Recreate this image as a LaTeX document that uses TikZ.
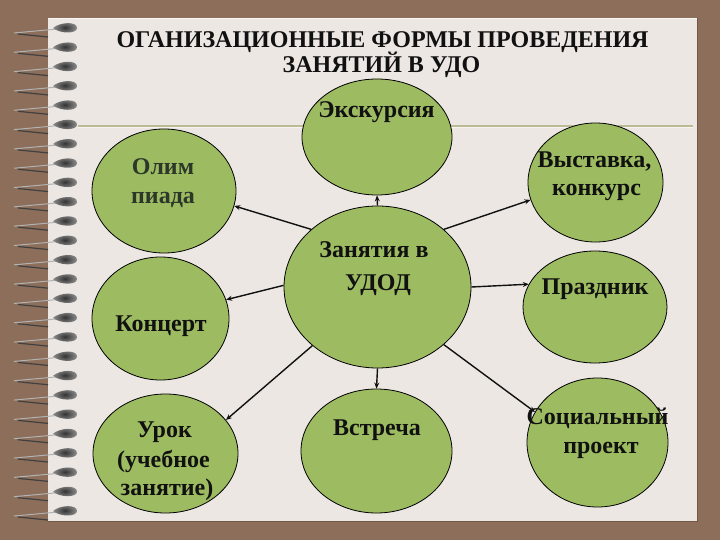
\documentclass[tikz,border=0pt]{standalone}
\usepackage{fontspec}
\setmainfont{Liberation Serif}
\usetikzlibrary{arrows.meta,shapes.geometric}
\definecolor{bg}{HTML}{8C6E5A}
\definecolor{paper}{HTML}{ECE7E3}
\definecolor{leaf}{HTML}{9DBB61}
\definecolor{ink}{HTML}{111111}
\definecolor{olimink}{HTML}{2C372A}
\definecolor{rule}{HTML}{BDBB95}
\begin{document}
\begin{tikzpicture}[x=1pt,y=-1pt,
  bubble/.style={ellipse,draw=black,line width=0.8pt,fill=leaf,inner sep=0pt},
  txt/.style={anchor=base,inner sep=0pt,text=ink,font=\bfseries\fontsize{24}{29}\selectfont},
  ttl/.style={anchor=base,inner sep=0pt,text=ink,font=\bfseries\fontsize{24}{29}\selectfont},
  arr/.style={draw=ink,line width=1.4pt,-{Stealth[length=6pt,width=5pt]}}]
\useasboundingbox (0,0) rectangle (720,540);
% background and paper
\fill[bg] (0,0) rectangle (720,540);
\fill[paper] (48,18) rectangle (697,521);
\draw[white!70!paper,line width=1pt] (48,18.5) -- (697,18.5);
\draw[bg!80!black,line width=1pt] (697.5,18) -- (697.5,521.5) -- (48,521.5);
% rule line
\draw[rule,line width=1.2pt] (78,126) -- (693,126);
\draw[white!60!paper,line width=0.8pt] (78,127.5) -- (693,127.5);
% spiral rings
\foreach \k in {0,...,25}{
  \pgfmathsetmacro{\yy}{28+19.32*\k}
  \draw[gray!60,line width=1pt] (14,\yy+5) -- (58,\yy+1);
  \draw[black!75,line width=1.2pt] (18,\yy+6) -- (48,\yy+9);
  \shade[inner color=black!80,outer color=black!45]
    (53,\yy) .. controls (60,\yy-6) and (77,\yy-7) .. (77,\yy)
    .. controls (77,\yy+6) and (60,\yy+6) .. (53,\yy) -- cycle;
}
% title
\node[ttl] (t1) at (382.5,48) {ОГАНИЗАЦИОННЫЕ ФОРМЫ ПРОВЕДЕНИЯ};
\node[ttl] (t2) at (381.5,73) {ЗАНЯТИЙ В УДО};
% bubbles
\node[bubble,minimum width=150pt,minimum height=116pt] (exc) at (377,137) {};
\node[bubble,minimum width=144pt,minimum height=124pt] (olim) at (164,191) {};
\node[bubble,minimum width=135pt,minimum height=119pt] (vyst) at (595.5,182.5) {};
\node[bubble,minimum width=187pt,minimum height=162pt] (zan) at (377.5,287) {};
\node[bubble,minimum width=144pt,minimum height=112pt] (praz) at (595,307) {};
\node[bubble,minimum width=137pt,minimum height=123pt] (konc) at (160.5,318.5) {};
\node[bubble,minimum width=145pt,minimum height=119pt] (urok) at (165.5,453.5) {};
\node[bubble,minimum width=151pt,minimum height=124pt] (vstr) at (376.5,451) {};
\node[bubble,minimum width=141pt,minimum height=129pt] (soc) at (597.5,442.5) {};
% texts
\node[txt] (excT) at (376.5,118) {Экскурсия};
\node[txt,text=olimink] (olimT1) at (163,175) {Олим};
\node[txt,text=olimink] (olimT2) at (163,204) {пиада};
\node[txt] (vystT1) at (594.5,168) {Выставка,};
\node[txt] (vystT2) at (596.5,196) {конкурс};
\node[txt] (zanT1) at (374,257) {Занятия в};
\node[txt] (zanT2) at (378,290) {УДОД};
\node[txt] (prazT) at (595,294) {Праздник};
\node[txt] (koncT) at (161,331) {Концерт};
\node[txt] (urokT1) at (164.5,437) {Урок};
\node[txt] (urokT2) at (163.5,467) {(учебное};
\node[txt] (urokT3) at (167,495) {занятие)};
\node[txt] (vstrT) at (377,435) {Встреча};
\node[txt] (socT1) at (597.5,424) {Социальный};
\node[txt] (socT2) at (601,453) {проект};
% connectors
\draw[arr] (zan.90) -- (exc.-90);
\draw[arr] (zan.139) -- (olim.-12.4);
\draw[arr] (zan.179) -- (konc.16.9);
\draw[arr] (zan.41) -- (vyst.-165.7);
\draw[arr] (zan.0) -- (praz.161.6);
\draw[arr] (zan.-138) -- (urok.29.5);
\draw[arr] (zan.-90) -- (vstr.90);
\draw[arr] (zan.-41.1) -- (soc.154.2);
\end{tikzpicture}
\end{document}
